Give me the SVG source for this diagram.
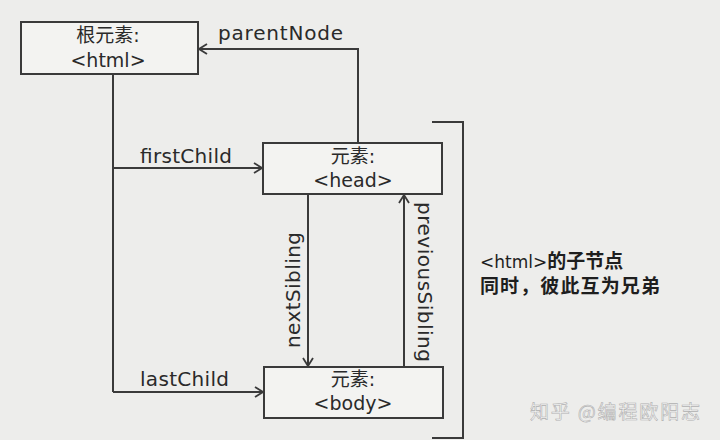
<svg xmlns="http://www.w3.org/2000/svg" width="720" height="440" viewBox="0 0 720 440">
<defs>
<style>
.bg{fill:#ededeb}
.box{fill:#f3f3f1;stroke:#3a3a3a;stroke-width:2}
.ln{fill:none;stroke:#3a3a3a;stroke-width:2}
.t{font-family:"DejaVu Sans","Noto Sans CJK SC",sans-serif;font-size:20px;fill:#2a2a2a}
.b{font-size:19px}
.c{text-anchor:middle}
.cjk{font-family:"Noto Sans CJK SC","DejaVu Sans",sans-serif;font-size:19px;fill:#1e1e1e}
.wm{font-family:"Noto Sans CJK SC",sans-serif;font-size:19px;fill:#f6f6f6;stroke:#b0b0b0;stroke-width:0.6}
</style>
<marker id="ah" viewBox="0 0 10 12" markerWidth="10" markerHeight="12" refX="9" refY="6" orient="auto" markerUnits="userSpaceOnUse">
<path d="M1,1 L9,6 L1,11" fill="none" stroke="#3a3a3a" stroke-width="1.8"/>
</marker>
</defs>
<rect class="bg" x="0" y="0" width="720" height="440"/>
<g id="connectors">
<path id="parentNode" class="ln" d="M358,143 V49 H199" marker-end="url(#ah)"/>
<path id="trunk" class="ln" d="M113,74 V392"/>
<path id="firstChild" class="ln" d="M113,168 H262" marker-end="url(#ah)"/>
<path id="lastChild" class="ln" d="M113,392 H263" marker-end="url(#ah)"/>
<path id="nextSibling" class="ln" d="M308,194 V366" marker-end="url(#ah)"/>
<path id="previousSibling" class="ln" d="M404,367 V195" marker-end="url(#ah)"/>
<path id="bracket" class="ln" d="M432,122 H463 V438 H432"/>
<text class="t" x="218" y="40" textLength="125">parentNode</text>
<text class="t" x="140" y="163" textLength="92">firstChild</text>
<text class="t" x="140" y="386" textLength="89">lastChild</text>
<text class="t c" transform="translate(300,290) rotate(-90)" textLength="116">nextSibling</text>
<text class="t c" transform="translate(418,282) rotate(90)" textLength="160">previousSibling</text>
</g>
<g id="html">
<rect class="box" x="21" y="22" width="177" height="52"/>
<text class="t b c" x="108" y="42">根元素:</text>
<text class="t b c" x="108" y="67">&lt;html&gt;</text>
</g>
<g id="head">
<rect class="box" x="263" y="143" width="179" height="51"/>
<text class="t b c" x="353" y="163">元素:</text>
<text class="t b c" x="353" y="187">&lt;head&gt;</text>
</g>
<g id="body">
<rect class="box" x="264" y="367" width="179" height="51"/>
<text class="t b c" x="353" y="386">元素:</text>
<text class="t b c" x="353" y="410">&lt;body&gt;</text>
</g>
<g id="note">
<text class="cjk" x="480" y="268"><tspan font-family="DejaVu Sans" font-size="17">&lt;html&gt;</tspan><tspan font-weight="bold">的子节点</tspan></text>
<text class="cjk" x="480" y="293" font-weight="bold" textLength="180">同时，彼此互为兄弟</text>
</g>
<text class="wm" x="530" y="419" textLength="170">知乎 @编程欧阳志</text>
</svg>
